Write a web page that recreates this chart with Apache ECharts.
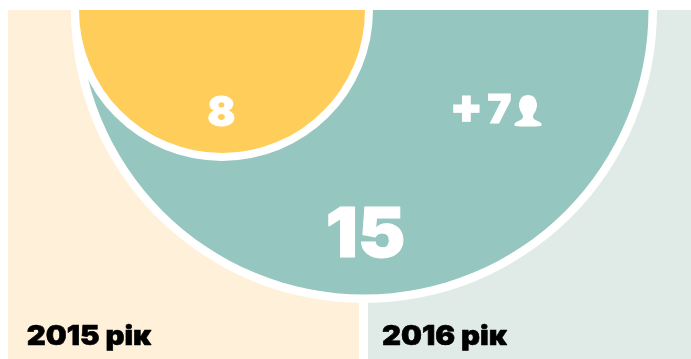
<!DOCTYPE html>
<html><head><meta charset="utf-8">
<style>html,body{margin:0;padding:0;background:#fff}#c{width:691px;height:359px}</style>
<script src="https://cdn.jsdelivr.net/npm/echarts@6/dist/echarts.min.js"></script>
</head><body><div id="c"></div>
<script>
const years = ['2015 рік', '2016 рік'];
const counts = [8, 15];
const addedSign = '+';
const addedValue = '7';
const chart = echarts.init(document.getElementById('c'), null, {renderer: 'canvas'});
const F = 'Inter,"Noto Sans",sans-serif';
function half(cx, r, color, value, z){
  return {type:'pie', silent:true, animation:false, center:[cx,10], radius:[0,r],
    startAngle:0, endAngle:-180, clockwise:true, z,
    label:{show:false}, labelLine:{show:false},
    itemStyle:{color, borderWidth:0},
    data:[{value}]};
}
function txt(text, x, y, size, fill, sx){
  return {type:'text',z:20,x,y,scaleX:sx||1,style:{text,x:0,y:0,align:'center',verticalAlign:'middle',
    font:'900 '+size+'px '+F,fill,stroke:fill,lineWidth:fill==='#000'?0.6:1}};
}
chart.setOption({
  animation:false,
  backgroundColor:'#fff',
  graphic:[
    {type:'rect',z:-1,shape:{x:8,y:10,width:351,height:349},style:{fill:'#fff1d9'}},
    {type:'rect',z:-1,shape:{x:368,y:10,width:323,height:349},style:{fill:'#e0ebe8'}},
    txt(years[0],89,337,27,'#000',1.09),
    txt(years[1],444.5,337,27,'#000',1.09),
    txt(String(counts[0]),221.5,113.5,41,'#fff'),
    txt(String(counts[1]),365.5,236,69,'#fff',1.03),
    txt(addedSign,466.5,109,48,'#fff'),
    txt(addedValue,499.5,111,40,'#fff'),
    {type:'polygon',z:20,shape:{smooth:0.3,points:[[528,95],[534,97],[537,104],[536,110],[533,116],[534,119],[541,123],[541,126],[515,126],[515,123],[522,119],[523,116],[520,110],[519,104],[522,97]]},style:{fill:'#fff'}}
  ],
  series:[
    half(364,293,'#ffffff',counts[1],1),
    half(364,284.5,'#95c6bf',counts[1],2),
    half(222,151,'#ffffff',counts[0],3),
    half(222,143,'#fecd5a',counts[0],4)
  ]
});
</script></body></html>
